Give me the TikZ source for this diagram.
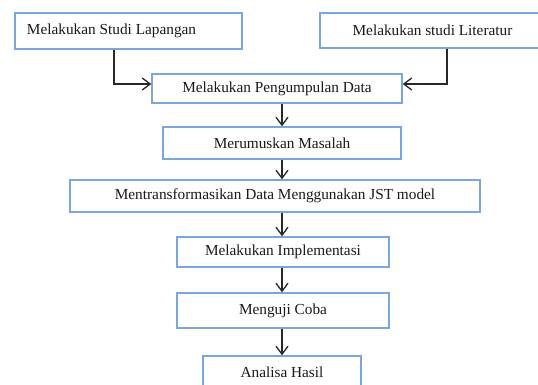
\documentclass[tikz,border=0pt]{standalone}
\usepackage{fontspec}
\setmainfont{Liberation Serif}
\usetikzlibrary{arrows.meta}
\definecolor{boxblue}{RGB}{122,166,218}
\definecolor{inkgray}{RGB}{25,25,25}
\definecolor{arrowgray}{RGB}{40,40,40}
\begin{document}
\begin{tikzpicture}[x=1pt,y=-1pt,
  box/.style={draw=boxblue, line width=1.4pt, fill=white, inner sep=0pt,
    text=inkgray, font=\fontsize{15.3}{17}\selectfont},
  arr/.style={draw=arrowgray, line width=1.3pt,
    -{Straight Barb[length=8pt,width=12pt,line width=1.3pt]}}]
\useasboundingbox (0,0) rectangle (538,385);

% process boxes
\node[box, minimum width=227, minimum height=36] (lapangan) at (128.5,31)
      {\makebox[203pt][l]{Melakukan Studi Lapangan}};
\node[box, minimum width=225, minimum height=35] (literatur) at (432.5,30.5)
      {Melakukan studi Literatur};
\node[box, minimum width=250, minimum height=29] (kumpul) at (277,88.5)
      {Melakukan Pengumpulan Data};
\node[box, minimum width=238, minimum height=32] (rumus) at (282,143)
      {Merumuskan Masalah};
\node[box, minimum width=410, minimum height=32] (transform) at (275,196)
      {Mentransformasikan Data Menggunakan JST model};
\node[box, minimum width=212, minimum height=30] (implement) at (283,252)
      {Melakukan Implementasi};
\node[box, minimum width=212, minimum height=35] (uji) at (283,310.5)
      {Menguji Coba};
\node[box, minimum width=158, minimum height=38, text depth=0pt] (analisa) at (282,375)
      {\raisebox{5pt}{Analisa Hasil}};

% vertical spine of the flow
\coordinate (spine) at (282,0);

% connectors
\draw[arr] ([xshift=-14.5pt]lapangan.south) |- ([yshift=4.5pt]kumpul.west);
\draw[arr] ([xshift=14.5pt]literatur.south) |- ([yshift=4.5pt]kumpul.east);
\draw[arr] (kumpul.south -| spine) -- (rumus.north -| spine);
\draw[arr] (rumus.south -| spine) -- (transform.north -| spine);
\draw[arr] (transform.south -| spine) -- (implement.north -| spine);
\draw[arr] (implement.south -| spine) -- (uji.north -| spine);
\draw[arr] (uji.south -| spine) -- (analisa.north -| spine);
\end{tikzpicture}
\end{document}
